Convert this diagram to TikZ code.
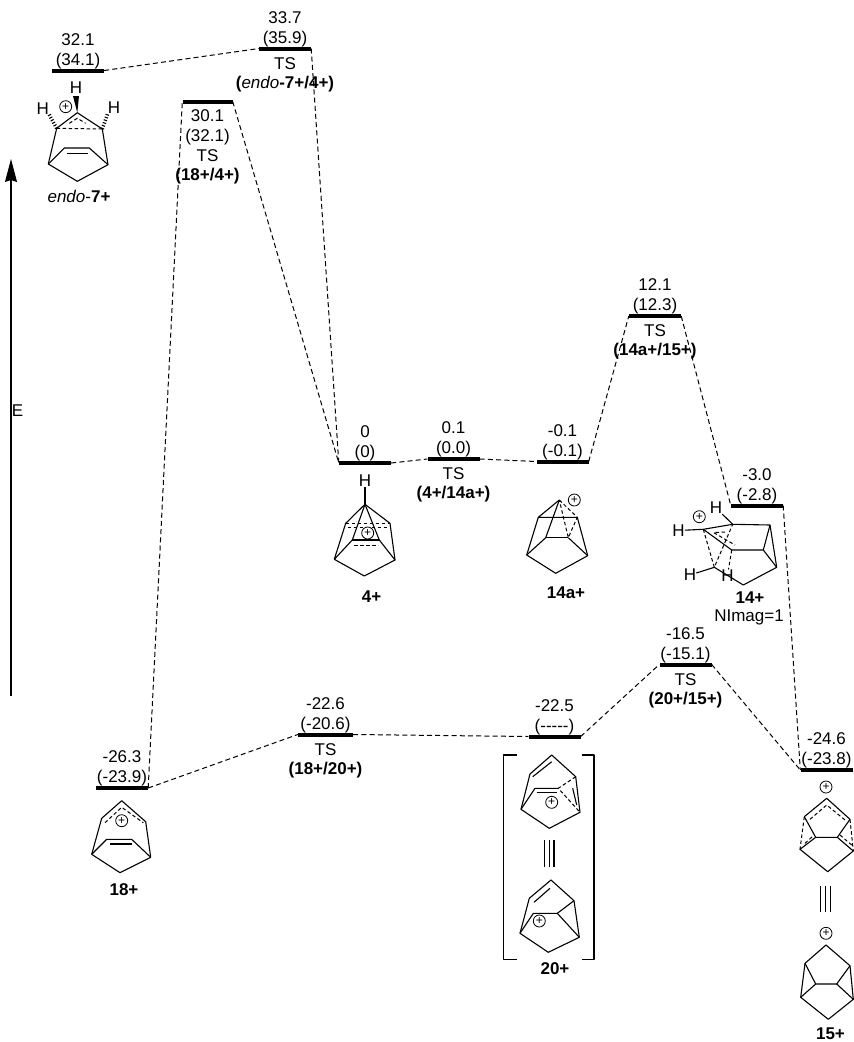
\documentclass[tikz,border=0pt]{standalone}
\usepackage{fontspec}
\setmainfont{Liberation Sans}
\usetikzlibrary{arrows.meta,positioning}

\begin{document}
\begin{tikzpicture}[
        x=1pt, y=-1pt,
        level/.style={
            rectangle,
            fill=black,
            inner sep=0pt,
            minimum width=52pt,
            minimum height=4pt
        },
        energy/.style={
            align=center,
            inner sep=0.5pt,
            font=\fontsize{17}{20}\selectfont
        },
        tag/.style={
            align=center,
            inner sep=0pt,
            font=\fontsize{17}{20}\selectfont\bfseries
        },
        atom/.style={inner sep=0pt, font=\fontsize{17}{17}\selectfont},
        cation/.style={
            circle, draw, line width=0.8pt,
            minimum size=12pt, inner sep=0pt,
            font=\fontsize{12}{12}\selectfont
        },
        bond/.style={draw, line width=1.1pt, line join=round},
        dbond/.style={draw, line width=1pt, dash pattern=on 3.5pt off 2.5pt},
        hbond/.style={draw, line width=3.5pt, dash pattern=on 1.1pt off 1.8pt},
        line/.style={draw, line width=1pt, dash pattern=on 5pt off 3.2pt}
    ]
        \useasboundingbox (0,0) rectangle (854,1042);

        % -- Levels --
        \node [level] (e7) at (78,70.5) {};
        \node [level] (ts7) at (285,48.5) {};
        \node [level, minimum width=50pt] (ts18) at (207.5,101.5) {};
        \node [level] (c4) at (365,463) {};
        \node [level] (ts414) at (453.5,459) {};
        \node [level] (c14a) at (562.5,461.5) {};
        \node [level] (ts14) at (655,316) {};
        \node [level] (c14) at (757,505.5) {};
        \node [level] (c15) at (826.5,770) {};
        \node [level] (ts2015) at (685.5,664.5) {};
        \node [level] (c20) at (554.5,736.5) {};
        \node [level, minimum width=55pt] (ts1820) at (325.5,734.5) {};
        \node [level] (c18) at (122,788) {};

        % -- Energies and names --
        \node [energy, above=-1pt of e7] (e7val) {32.1\\(34.1)};
        \node [energy, above=-1pt of ts7] (ts7val) {33.7\\(35.9)};
        \node [energy, below=6pt of ts7] (ts7ts) {TS};
        \node [tag, below=5.5pt of ts7ts] (ts7name) {(\textmd{\textit{endo}}-7+/4+)};
        \node [energy, below=5pt of ts18] (ts18val) {30.1\\(32.1)\\TS};
        \node [tag, below=5.5pt of ts18val] (ts18name) {(18+/4+)};
        \node [energy, above=-1pt of c4] (c4val) {0\\(0)};
        \node [energy, above=-1pt of ts414] (ts414val) {0.1\\(0.0)};
        \node [energy, below=6pt of ts414] (ts414ts) {TS};
        \node [tag, below=5.5pt of ts414ts] (ts414name) {(4+/14a+)};
        \node [energy, above=-1pt of c14a] (c14aval) {-0.1\\(-0.1)};
        \node [energy, above=-1pt of ts14] (ts14val) {12.1\\(12.3)};
        \node [energy, below=6pt of ts14] (ts14ts) {TS};
        \node [tag, below=5.5pt of ts14ts] (ts14name) {(14a+/15+)};
        \node [energy, above=-1pt of c14] (c14val) {-3.0\\(-2.8)};
        \node [energy, above=-1pt of ts2015] (ts2015val) {-16.5\\(-15.1)};
        \node [energy, below=6pt of ts2015] (ts2015ts) {TS};
        \node [tag, below=5.5pt of ts2015ts] (ts2015name) {(20+/15+)};
        \node [energy, above=-1pt of c20] (c20val) {-22.5\\(-{}-{}-{}-{}-)};
        \node [energy, above=-1pt of ts1820] (ts1820val) {-22.6\\(-20.6)};
        \node [energy, below=6pt of ts1820] (ts1820ts) {TS};
        \node [tag, below=5.5pt of ts1820ts] (ts1820name) {(18+/20+)};
        \node [energy, above=-1pt of c18] (c18val) {-26.3\\(-23.9)};
        \node [energy, above=-1pt of c15] (c15val) {-24.6\\(-23.8)};

        % -- Paths --
        \path [line] (e7.east) -- (ts7.west);
        \path [line] (ts7.east) -- (c4.west);
        \path [line] (ts18.east) -- (c4.west);
        \path [line] (c18.east) -- (ts18.west);
        \path [line] (c4.east) -- (ts414.west);
        \path [line] (ts414.east) -- (c14a.west);
        \path [line] (c14a.east) -- (ts14.west);
        \path [line] (ts14.east) -- (c14.west);
        \path [line] (c14.east) -- (c15.west);
        \path [line] (c18.east) -- (ts1820.west);
        \path [line] (ts1820.east) -- (c20.west);
        \path [line] (c20.east) -- (ts2015.west);
        \path [line] (ts2015.east) -- (c15.west);

        % -- Energy axis --
        \coordinate (axisfoot) at (11,696);
        \coordinate (axishead) at (11,159);
        \draw [line width=1.2pt, -{Stealth[length=23pt,width=12pt,inset=2pt]}] (axisfoot) -- (axishead);
        \node [energy] (axisname) at (17.5,411) {E};

        % -- endo-7+ --
        \foreach \n/\p in {top/{77.3,112.7},ul/{56.7,128.3},ur/{102.3,129},ll/{48.3,164},lr/{108,164.7},
                bot/{77.3,181.3},al/{64.3,148},ar/{89.3,148}}
            \coordinate (s\n) at (\p);
        \path [bond] (stop) -- (sul) -- (sll) -- (sbot) -- (slr) -- (sur) -- cycle;
        \path [bond] (sll) -- (sal) -- (sar) -- (slr);
        \path [bond] (66.7,153.3) -- (87.7,153.3);
        \path [dbond] (sul) -- (sur);
        \path [dbond] (69.3,123.3) -- (77.3,118.3) -- (85.7,123.3);
        \node [atom] (sh1) at (76,88) {H};
        \node [atom] (sh2) at (42.7,108.3) {H};
        \node [atom] (sh3) at (114,107.7) {H};
        \fill (stop) -- (73,96) -- (79,96) -- cycle;
        \path [hbond] (sul) -- (sh2.south east);
        \path [hbond] (sur) -- (sh3.south west);
        \node [cation] (splus) at (65.7,106.7) {+};
        \node [energy] (sname) at (79,196) {\textit{endo}-\textbf{7+}};

        % -- 18+ --
        \foreach \n/\p in {top/{121.7,800.7},a/{101.7,818.3},b/{145.7,821.7},c/{91.7,854.3},d/{150.7,857.3},
                bot/{120,872.7},e/{106.7,839.3},f/{131.7,839.3}}
            \coordinate (u\n) at (\p);
        \path [bond] (utop) -- (ua) -- (uc) -- (ubot) -- (ud) -- (ub) -- cycle;
        \path [bond] (uc) -- (ue) -- (uf) -- (ud);
        \path [bond] (110,844) -- (131.7,844);
        \path [dbond] (105,822.7) -- (121.7,807.3) -- (143.3,822.7);
        \node [cation] (uplus) at (121.7,820.7) {+};
        \node [tag] (uname) at (124,890) {18+};

        % -- 4+ --
        \foreach \n/\p in {top/{365,504.3},ul/{345.7,523.3},ur/{390,523.3},ll/{334.3,559.3},lr/{395,560},
                bot/{364.3,576},il/{352.3,540},ir/{379.3,540}}
            \coordinate (f\n) at (\p);
        \node [atom] (fh) at (365,481) {H};
        \path [bond] (fh) -- (ftop);
        \path [bond] (ftop) -- (ful) -- (fll) -- (fbot) -- (flr) -- (fur) -- cycle;
        \path [bond] (fll) -- (fil) -- (ftop) -- (fir) -- (flr);
        \path [bond] (fil) -- (fir);
        \path [dbond] (ful) -- (fur);
        \path [dbond] (347.7,527.7) -- (389.3,527.7);
        \path [dbond] (354.3,545.3) -- (378.3,545.3);
        \node [cation, fill=white] (fplus) at (367.7,533) {+};
        \node [tag] (fname) at (371.5,596.5) {4+};

        % -- 14a+ --
        \foreach \n/\p in {top/{559.3,500},ul/{538.3,517.3},ur/{577.3,517.3},ll/{526.7,555},lr/{587.7,555.7},
                bot/{555.7,573.3},il/{545.7,537.7},ir/{568.3,537.7}}
            \coordinate (k\n) at (\p);
        \path [bond] (ktop) -- (kul) -- (kll) -- (kbot) -- (klr) -- (kur) -- (kul);
        \path [bond] (kll) -- (kil) -- (ktop);
        \path [bond] (kil) -- (kir);
        \path [bond] (kir) -- (klr);
        \path [dbond] (ktop) -- (kur) -- (kir) -- cycle;
        \node [cation] (kplus) at (574.3,500) {+};
        \node [tag] (kname) at (566,592.5) {14a+};

        % -- 14+ --
        \foreach \n/\p in {a/{703.3,529.3},b/{732.7,524.3},c/{770,525},d/{776.7,567.3},e/{743.3,585},
                f/{714.3,567.3},g/{731.7,550},i/{763.3,550}}
            \coordinate (n\n) at (\p);
        \node [atom] (nh1) at (716,508) {H};
        \node [atom] (nh2) at (678.5,530.5) {H};
        \node [atom] (nh3) at (690,575) {H};
        \node [atom] (nh4) at (727.5,575.5) {H};
        \path [bond] (nh1) -- (nb);
        \path [bond] (nh2) -- (na);
        \path [bond] (nh3) -- (nf);
        \path [bond] (na) -- (nb) -- (nc) -- (nd) -- (ne) -- (nf);
        \path [bond] (na) -- (ng) -- (ni) -- (nd);
        \path [bond] (nc) -- (ni);
        \path [dbond] (na) -- (nf) -- (nb);
        \path [dbond] (ng) -- (nh4);
        \path [dbond] (725,532) -- (713.5,532.5) -- (735,545);
        \node [cation] (nplus) at (699.3,516.7) {+};
        \node [tag] (nname) at (750,597.5) {14+};
        \node [energy] (nimag) at (749,617.5) {NImag=1};

        % -- 20+ upper form --
        \foreach \n/\p in {top/{551.7,755},a/{530,774},b/{575.7,776.7},c/{521,809.3},d/{580,812.3},
                bot/{549.3,828.3},e/{535,788.3},f/{558.3,788.3}}
            \coordinate (p\n) at (\p);
        \path [bond] (ptop) -- (pa) -- (pc) -- (pbot) -- (pd) -- (pb) -- cycle;
        \path [bond] (pc) -- (pe) -- (pf);
        \path [bond] (532.7,776.7) -- (551.7,761.7);
        \path [bond] (536.7,792.7) -- (556.7,792.7);
        \path [bond] (572.7,788.3) -- (576.7,805);
        \path [dbond] (pb) -- (pf) -- (pd);
        \node [cation] (pplus) at (551.7,802.3) {+};

        % -- 20+ lower form --
        \foreach \n/\p in {top/{551,880},a/{529.3,898.3},b/{574,900.7},c/{520,933.3},d/{579.3,937.3},
                bot/{548.3,952.3},e/{533.3,913.3},f/{557.3,913.3}}
            \coordinate (q\n) at (\p);
        \path [bond] (qtop) -- (qa) -- (qc) -- (qbot) -- (qd) -- (qb) -- cycle;
        \path [bond] (qc) -- (qe) -- (qf) -- (qb);
        \path [bond] (qf) -- (qd);
        \path [bond] (534,902.3) -- (550,888.3);
        \node [cation] (qplus) at (539.3,921) {+};

        % bars between the forms, brackets
        \foreach \x in {544.3,549.3,554}
            \path [bond] (\x,840) -- (\x,866.7);
        \path [bond] (516.7,755) -| (503.3,959.3) -- (516.7,959.3);
        \path [bond] (581.7,755) -| (594,959.3) -- (581.7,959.3);
        \node [tag] (qname) at (555,968.5) {20+};

        % -- 15+ upper form --
        \foreach \n/\p in {top/{826.7,798.3},a/{804.3,816.7},b/{850,819.3},c/{800,849.3},d/{853.3,851},
                bot/{827.7,871.7},e/{815.7,837.3},f/{837.3,837.3}}
            \coordinate (w\n) at (\p);
        \path [bond] (wa) -- (wtop) -- (wb) -- (wf) -- (we) -- (wa);
        \path [bond] (we) -- (wc) -- (wbot) -- (wd) -- (wf);
        \path [dbond] (wa) -- (wc);
        \path [dbond] (wb) -- (wd);
        \path [dbond] (810,819.3) -- (826.7,805) -- (845,820);
        \path [dbond] (805,843.3) -- (813,836);
        \path [dbond] (840,835) -- (851.7,845);
        \node [cation] (wplus) at (826,787) {+};

        % -- 15+ lower form --
        \foreach \n/\p in {top/{826,945},a/{805,963.3},b/{850,965.7},c/{800.7,997.3},d/{853.3,999.3},
                bot/{828.3,1019.3},e/{815.7,984},f/{836.7,984}}
            \coordinate (z\n) at (\p);
        \path [bond] (za) -- (ztop) -- (zb) -- (zf) -- (ze) -- (za);
        \path [bond] (ze) -- (zc) -- (zbot) -- (zd) -- (zf);
        \path [bond] (za) -- (zc);
        \path [bond] (zb) -- (zd);
        \node [cation] (zplus) at (826,933.3) {+};
        \foreach \x in {820.7,825.7,830.7}
            \path [bond] (\x,886) -- (\x,911.7);
        \node [tag] (zname) at (830.5,1033.5) {15+};

    \end{tikzpicture}
\end{document}
